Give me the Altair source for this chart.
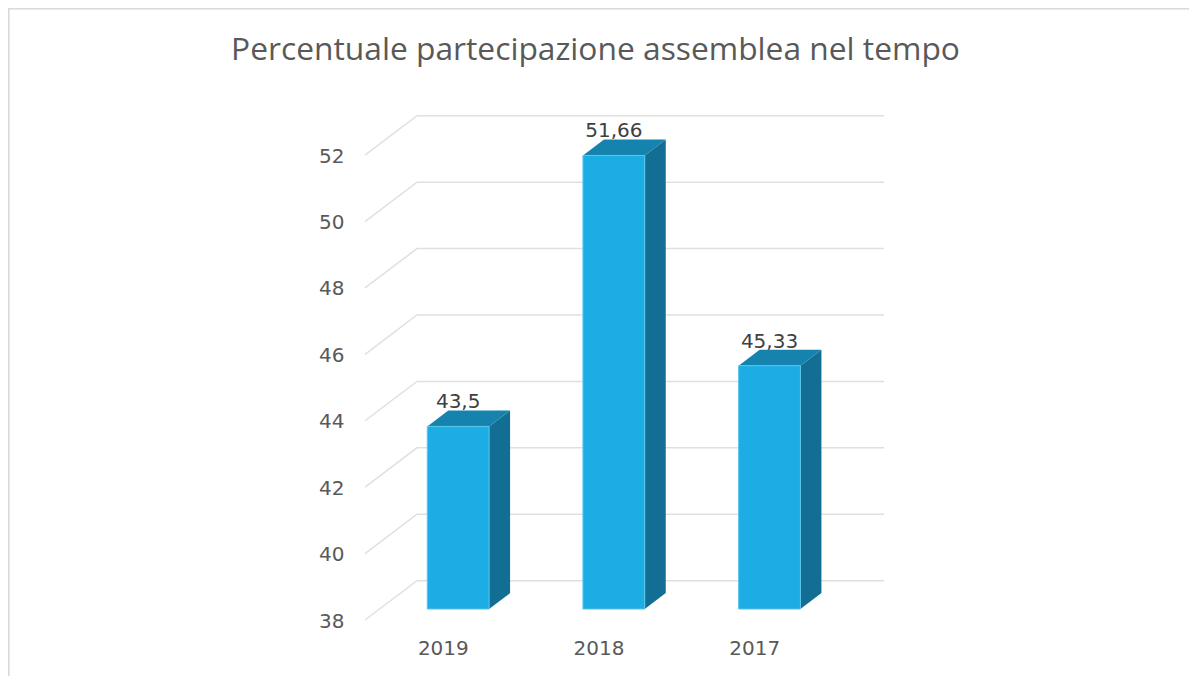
import altair as alt
import pandas as pd

TITLE = "Percentuale partecipazione assemblea nel tempo"
years = ["2019", "2018", "2017"]
values = [43.5, 51.66, 45.33]
value_labels = ["43,5", "51,66", "45,33"]
ticks = [38, 40, 42, 44, 46, 48, 50, 52]

FONT = "Open Sans"
NUM_FONT = "DejaVu Sans"
FRONT, TOP, SIDE = "#1CADE4", "#1583AE", "#126F93"
GRID = "#E0E0E0"
AXIS_TEXT = "#595959"

# 3D geometry, in scale units
WALL_DX, WALL_DY = 0.334, 1.185
INSET_DY = 0.33
LEFT, RIGHT = -0.10, 0.297
BAR_DX, BAR_DY = 0.135, 0.48
X_DOMAIN = [-0.5, 2.5 + WALL_DX]
Y_DOMAIN = [38, 53.66]

x_scale = alt.Scale(domain=X_DOMAIN, nice=False, zero=False)
y_scale = alt.Scale(domain=Y_DOMAIN, nice=False, zero=False)

grid = pd.DataFrame(
    [{"t": t, "o": 0, "x": X_DOMAIN[0], "y": t} for t in ticks]
    + [{"t": t, "o": 1, "x": X_DOMAIN[0] + WALL_DX, "y": t + WALL_DY} for t in ticks]
    + [{"t": t, "o": 2, "x": X_DOMAIN[1], "y": t + WALL_DY} for t in ticks]
)

bars = pd.DataFrame(
    {
        "year": years,
        "label": value_labels,
        "left": [i + LEFT for i in range(3)],
        "right": [i + RIGHT for i in range(3)],
        "mid": [i + (LEFT + RIGHT) / 2 for i in range(3)],
        "top": [v + INSET_DY for v in values],
        "base": [38 + INSET_DY] * 3,
    }
)

side = pd.concat(
    [
        bars.assign(x=bars.right, y=bars.top, y2=bars.base),
        bars.assign(x=bars.right + BAR_DX, y=bars.top + BAR_DY, y2=bars.base + BAR_DY),
    ]
)
top = pd.concat(
    [
        bars.assign(y=bars.top, x=bars.left, x2=bars.right),
        bars.assign(y=bars.top + BAR_DY, x=bars.left + BAR_DX, x2=bars.right + BAR_DX),
    ]
)

label_expr = "datum.value === 0 ? '2019' : datum.value === 1 ? '2018' : '2017'"

x_axis = alt.Axis(
    values=[0, 1, 2],
    labelExpr=label_expr,
    title=None,
    domain=False,
    ticks=False,
    grid=False,
    labelFont=NUM_FONT,
    labelFontSize=20,
    labelColor=AXIS_TEXT,
    labelPadding=18,
    labelFlush=False,
)
y_axis = alt.Axis(
    values=ticks,
    title=None,
    domain=False,
    ticks=False,
    grid=False,
    labelFont=NUM_FONT,
    labelFontSize=20,
    labelColor=AXIS_TEXT,
    labelPadding=21,
    labelOffset=1,
)

grid_layer = (
    alt.Chart(grid)
    .mark_line(color=GRID, strokeWidth=1.5)
    .encode(
        x=alt.X("x:Q", scale=x_scale, axis=x_axis),
        y=alt.Y("y:Q", scale=y_scale, axis=y_axis),
        detail="t:N",
        order="o:Q",
    )
)

side_layer = (
    alt.Chart(side)
    .mark_area(color=SIDE, line=False)
    .encode(
        x=alt.X("x:Q", scale=x_scale, axis=x_axis),
        y=alt.Y("y:Q", scale=y_scale, axis=y_axis, stack=None),
        y2="y2:Q",
        detail="year:N",
    )
)

top_layer = (
    alt.Chart(top)
    .mark_area(color=TOP, orient="horizontal")
    .encode(
        y=alt.Y("y:Q", scale=y_scale, axis=y_axis),
        x=alt.X("x:Q", scale=x_scale, axis=x_axis, stack=None),
        x2="x2:Q",
        detail="year:N",
    )
)

front_layer = (
    alt.Chart(bars)
    .mark_rect(color=FRONT, stroke="#5CC6EC", strokeWidth=1)
    .encode(
        x=alt.X("left:Q", scale=x_scale, axis=x_axis),
        x2="right:Q",
        y=alt.Y("top:Q", scale=y_scale, axis=y_axis),
        y2="base:Q",
    )
)

text_layer = (
    alt.Chart(bars)
    .mark_text(font=NUM_FONT, fontSize=20, color="#404040", baseline="alphabetic", align="center", dy=-18)
    .encode(
        x=alt.X("mid:Q", scale=x_scale, axis=x_axis),
        y=alt.Y("top:Q", scale=y_scale, axis=y_axis),
        text="label:N",
    )
)

border_top = alt.Chart(bars).mark_rule(color="#DADADA", strokeWidth=1.6).encode(
    x=alt.value(-357), x2=alt.value(824), y=alt.value(-91.5)
)
border_left = alt.Chart(bars).mark_rule(color="#DADADA", strokeWidth=1.6).encode(
    x=alt.value(-356.5), y=alt.value(-92), y2=alt.value(581)
)

chart = (
    alt.layer(grid_layer, side_layer, top_layer, front_layer, text_layer, border_top, border_left)
    .properties(
        width=519,
        height=520,
        padding={"left": 357, "top": 92, "right": 305, "bottom": 56},
        autosize=alt.AutoSizeParams(type="none"),
        title=alt.TitleParams(
            TITLE,
            font=FONT,
            fontSize=31.75,
            fontWeight="normal",
            color=AXIS_TEXT,
            anchor="middle",
            dx=-29,
            offset=-60,
        ),
    )
    .configure_view(stroke=None)
)

chart.save("out.html", embed_options={"renderer": "svg", "actions": False})
